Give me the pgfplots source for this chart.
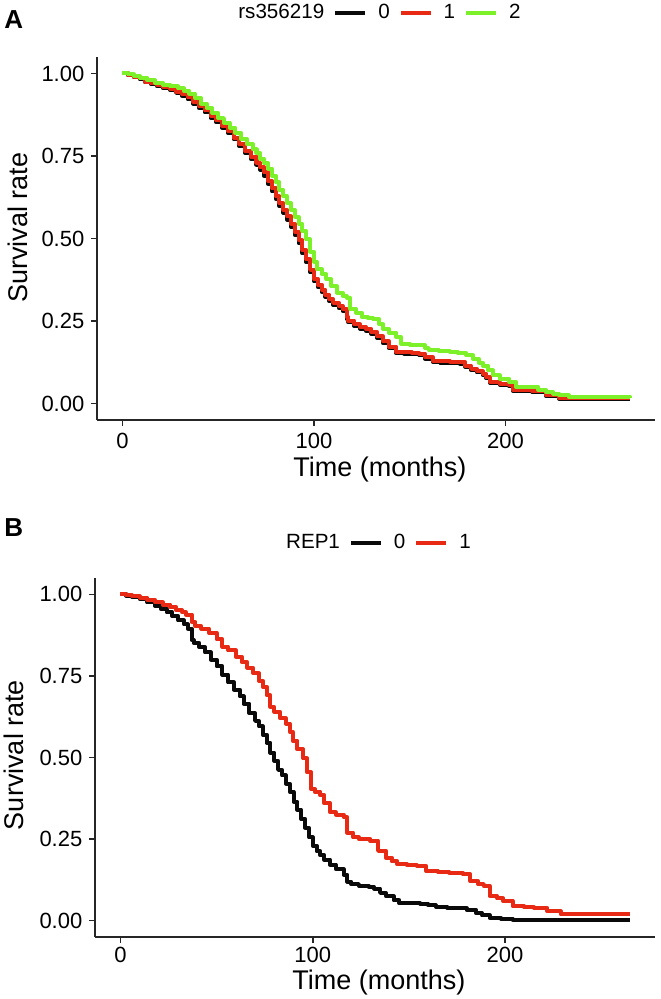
\documentclass[border=0pt]{standalone}
\usepackage{pgfplots}
\pgfplotsset{compat=1.18}
\usepackage{fontspec}
\setmainfont{Liberation Sans}
\definecolor{kmred}{RGB}{232,42,20}
\definecolor{kmgreen}{RGB}{124,240,40}
\definecolor{kmblack}{RGB}{10,10,10}

\pgfplotsset{kmstyle/.style={
  scale only axis,
  xmin=-13.25, xmax=278, ymin=-0.05, ymax=1.05,
  axis x line*=bottom, axis y line*=left,
  axis line style={line width=0.8pt, black!85},
  xtick={0,100,200}, ytick={0,0.25,0.5,0.75,1},
  y tick label style={/pgf/number format/.cd, fixed, fixed zerofill, precision=2, /tikz/.cd},
  tick align=outside, major tick length=2.8pt,
  tick style={line width=0.8pt, black!85},
  tick label style={font=\fontsize{11}{13}\selectfont},
  /pgf/number format/assume math mode=true,
  xlabel={Time (months)}, ylabel={Survival rate},
  legend columns=-1,
  legend style={draw=none, fill=none, font=\fontsize{10.3}{12}\selectfont,
    /tikz/every even column/.append style={column sep=2.5pt},
    /tikz/every odd column/.append style={column sep=3.5pt}},
  legend image code/.code={\draw[#1, line width=2pt] (0pt,0pt) -- (15pt,0pt);},
  every axis plot/.append style={line width=2pt, line join=round},
}}

\begin{document}
\begin{tikzpicture}
\path[use as bounding box] (0,0) rectangle (330pt,499.5pt);

\node[font=\bfseries\fontsize{13}{15}\selectfont, anchor=west, inner sep=0pt] at (2pt,489.5pt) {A};
\node[font=\bfseries\fontsize{13}{15}\selectfont, anchor=west, inner sep=0pt] at (2pt,235.5pt) {B};

% Panel A
\begin{axis}[kmstyle, at={(48.5pt,289.5pt)}, anchor=south west, width=279pt, height=181.5pt,
  every axis x label/.style={at={(axis description cs:0.507,-0.1543)}, anchor=base, font=\fontsize{13.5}{16}\selectfont},
  every axis y label/.style={at={(axis description cs:-0.1237,0.529)}, rotate=90, anchor=base, font=\fontsize{13.5}{16}\selectfont},
  legend style={at={(axis description cs:0.5,1)}, anchor=center, yshift=22.2pt}]
\addlegendimage{empty legend}\addlegendentry{rs356219}
\addplot[const plot, kmblack] coordinates {
(0,1.00)(3,0.994)(6,0.988)(9,0.982)(12,0.973)(15,0.967)(18,0.962)(21,0.956)(25,0.950)(28,0.941)
(31,0.933)(34,0.922)(37,0.909)(40,0.895)(43,0.882)(46,0.866)(49,0.852)(52,0.836)(55,0.820)(58,0.800)
(61,0.780)(64,0.759)(67,0.742)(70,0.724)(72,0.708)(74,0.690)(76,0.666)(78,0.643)(80,0.620)(82,0.598)
(84,0.578)(86,0.557)(88,0.535)(90,0.510)(92,0.485)(94,0.455)(96,0.428)(98,0.397)(100,0.370)(102,0.353)
(104,0.338)(106,0.323)(108,0.310)(110,0.299)(113,0.289)(115,0.280)(117,0.256)(118,0.246)(121,0.235)(124,0.227)
(127,0.221)(130,0.211)(133,0.198)(136,0.183)(139,0.168)(143,0.152)(147,0.151)(151,0.149)(155,0.147)(158,0.136)
(162,0.126)(166,0.124)(171,0.123)(176,0.121)(179,0.111)(182,0.101)(185,0.094)(188,0.086)(190,0.076)(192,0.062)
(197,0.057)(202,0.052)(204,0.038)(214,0.035)(221,0.023)(228,0.015)(265,0.015)};
\addlegendentry{0}
\addplot[const plot, kmred] coordinates {
(0,1.00)(3,0.995)(6,0.99)(9,0.985)(12,0.975)(15,0.97)(18,0.965)(21,0.96)(25,0.954)(28,0.945)
(31,0.938)(34,0.928)(37,0.915)(40,0.900)(43,0.888)(46,0.872)(49,0.858)(52,0.842)(55,0.826)(58,0.806)
(61,0.786)(64,0.765)(67,0.748)(70,0.730)(72,0.716)(74,0.700)(76,0.675)(78,0.652)(80,0.628)(82,0.607)
(84,0.587)(86,0.567)(88,0.545)(90,0.520)(92,0.495)(94,0.465)(96,0.437)(98,0.405)(100,0.377)(102,0.360)
(104,0.345)(106,0.330)(108,0.316)(110,0.305)(113,0.295)(115,0.286)(117,0.262)(118,0.251)(121,0.240)(124,0.232)
(127,0.226)(130,0.216)(133,0.203)(136,0.188)(139,0.172)(143,0.156)(147,0.155)(151,0.153)(155,0.151)(158,0.140)
(162,0.130)(166,0.128)(171,0.127)(176,0.125)(179,0.115)(182,0.105)(185,0.098)(188,0.090)(190,0.080)(192,0.065)
(197,0.060)(202,0.055)(204,0.040)(214,0.037)(221,0.025)(228,0.017)(265,0.017)};
\addlegendentry{1}
\addplot[const plot, kmgreen] coordinates {
(0,1.00)(3,0.997)(6,0.992)(9,0.987)(13,0.979)(17,0.972)(21,0.966)(25,0.961)(29,0.955)(32,0.948)
(35,0.939)(38,0.925)(41,0.909)(44,0.895)(47,0.880)(50,0.865)(53,0.850)(56,0.836)(59,0.820)(62,0.802)
(65,0.786)(68,0.770)(70,0.758)(72,0.742)(74,0.728)(76,0.712)(78,0.690)(80,0.670)(82,0.648)(84,0.628)
(86,0.607)(88,0.587)(90,0.565)(92,0.545)(94,0.522)(96,0.497)(98,0.460)(100,0.430)(101.5,0.407)(104,0.392)
(106.5,0.377)(109,0.355)(112,0.336)(115,0.325)(117,0.321)(119,0.286)(122,0.275)(125,0.262)(128,0.258)(131,0.256)
(134,0.240)(136,0.226)(139,0.215)(143,0.201)(145.5,0.181)(150,0.178)(155,0.176)(158,0.168)(160,0.161)(165,0.158)
(171,0.156)(175,0.152)(179.5,0.146)(183,0.135)(186,0.124)(188,0.115)(191,0.100)(193.5,0.085)(197,0.075)(202,0.065)
(205.5,0.050)(214,0.050)(217,0.042)(221,0.035)(225,0.030)(228,0.025)(233,0.020)(265,0.018)};
\addlegendentry{2}
\end{axis}

% Panel B
\begin{axis}[kmstyle, at={(47.5pt,31pt)}, anchor=south west, width=280pt, height=179.5pt,
  x tick label style={yshift=1.5pt},
  every axis x label/.style={at={(axis description cs:0.507,-0.1476)}, anchor=base, font=\fontsize{13.5}{16}\selectfont},
  every axis y label/.style={at={(axis description cs:-0.1268,0.507)}, rotate=90, anchor=base, font=\fontsize{13.5}{16}\selectfont},
  legend style={at={(axis description cs:0.5,1)}, anchor=center, yshift=17.7pt}]
\addlegendimage{empty legend}\addlegendentry{REP1}
\addplot[const plot, kmblack] coordinates {
(0,1.00)(3,0.996)(6,0.992)(10,0.985)(14,0.975)(18,0.964)(21,0.955)(24,0.945)(27,0.933)(30,0.920)
(33,0.908)(35,0.895)(37,0.860)(38,0.851)(41,0.838)(44,0.822)(47,0.800)(50,0.779)(53,0.754)(56,0.730)
(59,0.708)(62,0.687)(64,0.665)(67,0.636)(70,0.612)(72,0.595)(74,0.570)(76,0.545)(78,0.515)(80,0.490)
(82,0.462)(84,0.445)(86,0.420)(88,0.395)(90,0.365)(92,0.340)(94,0.312)(96,0.285)(98,0.255)(100,0.230)
(102,0.212)(104,0.200)(106,0.187)(109,0.172)(112,0.158)(116,0.141)(118,0.120)(120,0.112)(124,0.107)(129,0.103)
(132,0.098)(135,0.085)(138,0.075)(142,0.062)(145,0.053)(150,0.053)(156,0.052)(160,0.047)(164,0.043)(170,0.040)
(176,0.038)(180,0.033)(185,0.023)(188,0.016)(192,0.008)(198,0.005)(204,0.002)(265,0.002)};
\addlegendentry{0}
\addplot[const plot, kmred] coordinates {
(0,1.00)(3,0.998)(6,0.994)(10,0.990)(14,0.983)(18,0.975)(22,0.968)(26,0.960)(29,0.952)(32,0.945)
(34,0.938)(37,0.915)(39,0.902)(42,0.895)(46,0.882)(50,0.862)(53,0.840)(56,0.828)(60,0.809)(63,0.792)
(66,0.775)(69,0.758)(72,0.735)(74,0.717)(76,0.690)(78,0.655)(80,0.640)(83,0.620)(86,0.604)(88,0.579)
(89.5,0.552)(92,0.525)(95,0.497)(97,0.455)(99,0.404)(101,0.395)(104,0.384)(106,0.360)(109,0.332)(112,0.325)
(116,0.317)(118,0.270)(121,0.255)(124,0.250)(130,0.245)(134,0.214)(138,0.193)(141,0.182)(144,0.173)(149,0.170)
(154,0.168)(159,0.152)(165,0.150)(171,0.147)(178,0.142)(182,0.121)(186,0.112)(189,0.106)(192,0.075)(196,0.068)
(199,0.060)(204,0.044)(210,0.041)(215,0.039)(222,0.029)(229,0.019)(265,0.019)};
\addlegendentry{1}
\end{axis}
\end{tikzpicture}
\end{document}
